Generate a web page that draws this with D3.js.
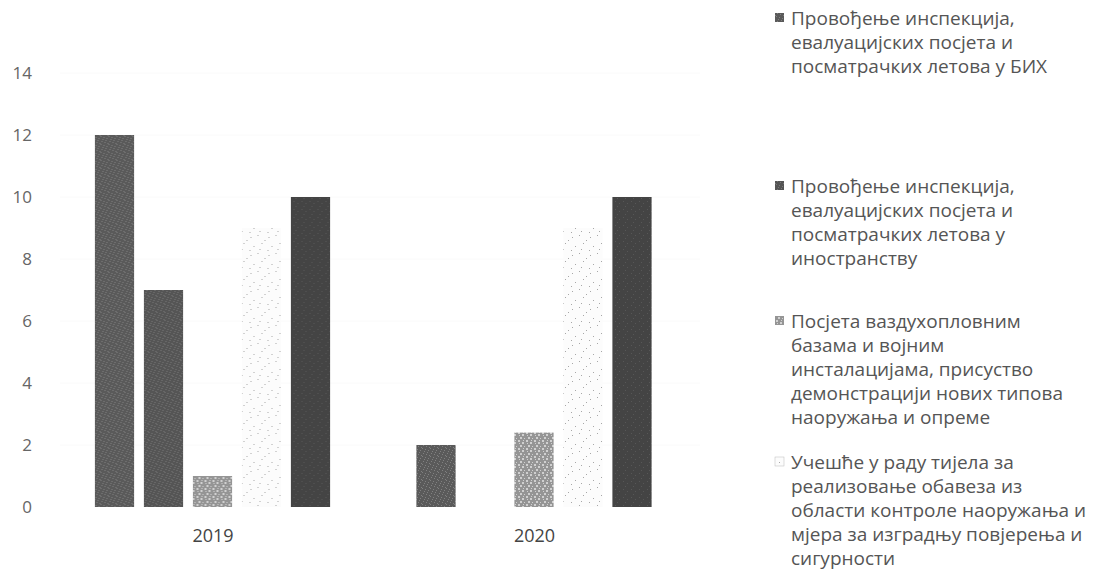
<!DOCTYPE html>
<html><head><meta charset="utf-8">
<script src="https://cdn.jsdelivr.net/npm/d3@7"></script>
<style>body{margin:0;background:#fff;} text{font-family:"Open Sans",sans-serif;}</style>
</head><body>
<svg id="chart" width="1093" height="583"></svg>
<script>
const years = ["2019", "2020"];
const seriesNames = [
  "Провођење инспекција, евалуацијских посјета и посматрачких летова у БИХ",
  "Провођење инспекција, евалуацијских посјета и посматрачких летова у иностранству",
  "Посјета ваздухопловним базама и војним инсталацијама, присуство демонстрацији нових типова наоружања и опреме",
  "Учешће у раду тијела за реализовање обавеза из области контроле наоружања и мјера за изградњу повјерења и сигурности",
  "Остало"
];
const values2019 = [12, 7, 1, 9, 10];
const values2020 = [2, 0, 2.4, 9, 10];
const yTicks = [0, 2, 4, 6, 8, 10, 12, 14];
const legendLines = [
  ["Провођење инспекција,", "евалуацијских посјета и", "посматрачких летова у БИХ"],
  ["Провођење инспекција,", "евалуацијских посјета и", "посматрачких летова у", "иностранству"],
  ["Посјета ваздухопловним", "базама и војним", "инсталацијама, присуство", "демонстрацији нових типова", "наоружања и опреме"],
  ["Учешће у раду тијела за", "реализовање обавеза из", "области контроле наоружања и", "мјера за изградњу повјерења и", "сигурности"]
];

const svg = d3.select("#chart");
const defs = svg.append("defs");

function makePattern(id, base, dots, dotColor, size) {
  const p = defs.append("pattern").attr("id", id).attr("patternUnits", "userSpaceOnUse")
    .attr("width", size).attr("height", size);
  p.append("rect").attr("width", size).attr("height", size).attr("fill", base);
  dots.forEach(d => p.append("rect").attr("x", d[0]).attr("y", d[1]).attr("width", d[2]).attr("height", d[2]).attr("fill", dotColor));
}
const dotsA = [[0,0,1],[3,1,1],[5,4,1],[1,5,1],[6,2,1],[2,3,1],[4,6,1],[7,7,1]];
makePattern("p0", "#5a5a5a", dotsA, "#808080", 8);
makePattern("p1", "#555555", dotsA, "#787878", 8);
makePattern("p2", "#959595", [[0,0,2],[4,2,2],[2,5,2],[6,6,1],[5,0,1],[1,3,1]], "#d0d0d0", 8);
makePattern("p3", "#fcfcfc", [[2,3,1],[9,1,1],[13,9,1],[5,12,1],[11,15,1],[1,16,1],[16,6,1]], "#a8a8a8", 18);
makePattern("p4", "#444444", [[1,1,1],[5,3,1],[3,6,1]], "#575757", 8);
const fills = ["url(#p0)", "url(#p1)", "url(#p2)", "url(#p3)", "url(#p4)"];

const y = d3.scaleLinear().domain([0, 14]).range([507, 73]);
const x0 = d3.scalePoint().domain(years).range([212.5, 534]);
const x1 = d3.scaleBand().domain(d3.range(seriesNames.length)).range([-122.5, 122.5]).paddingInner(0.2).paddingOuter(0.1);

const data = years.map((yr, i) => ({ year: yr, vals: i === 0 ? values2019 : values2020 }));

// very faint gridlines
svg.append("g").selectAll("line").data(yTicks.filter(t => t > 0)).join("line")
  .attr("x1", 60).attr("x2", 700).attr("y1", d => y(d)).attr("y2", d => y(d))
  .attr("stroke", "#fafafa").attr("stroke-width", 1);

// y axis labels
const yAxis = d3.axisLeft(y).tickValues(yTicks).tickSize(0).tickPadding(0);
const gy = svg.append("g").attr("transform", "translate(32,0)").call(yAxis);
gy.select(".domain").remove();
gy.selectAll("text").attr("font-size", 17).attr("fill", "#666").attr("font-family", "Open Sans");

// x axis labels
const xAxis = d3.axisBottom(x0).tickSize(0).tickPadding(0);
const gx = svg.append("g").attr("transform", "translate(0,529)").call(xAxis);
gx.select(".domain").remove();
gx.selectAll("text").attr("font-size", 18).attr("fill", "#444").attr("font-family", "Open Sans");

// bars
const groups = svg.append("g").selectAll("g").data(data).join("g")
  .attr("transform", d => `translate(${x0(d.year)},0)`);
groups.selectAll("rect").data(d => d.vals.map((v, i) => ({ v, i }))).join("rect")
  .attr("x", d => x1(d.i)).attr("width", x1.bandwidth())
  .attr("y", d => y(d.v)).attr("height", d => y(0) - y(d.v))
  .attr("fill", d => fills[d.i]);

// legend
const legendTop = [18, 186, 321, 462];
const lg = svg.append("g");
legendLines.forEach((lines, i) => {
  lg.append("rect").attr("x", 775).attr("y", legendTop[i] - 5).attr("width", 9).attr("height", 9)
    .attr("fill", fills[i]).attr("stroke", i === 3 ? "#bbb" : "none").attr("stroke-width", 0.5);
  const t = lg.append("text").attr("x", 791).attr("y", legendTop[i]).attr("font-size", 19).attr("fill", "#555");
  lines.forEach((ln, j) => t.append("tspan").attr("x", 791).attr("dy", j === 0 ? "0.35em" : 24).text(ln));
});
</script>
</body></html>
